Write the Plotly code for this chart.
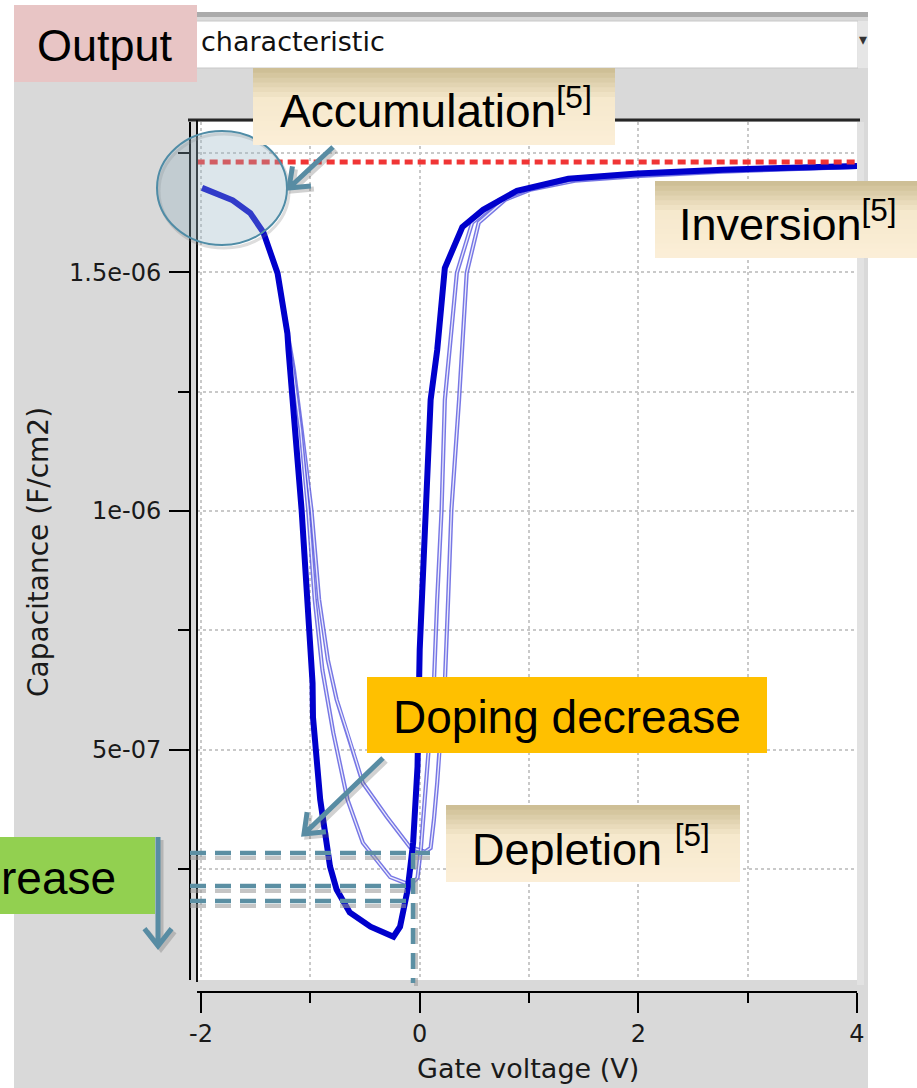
import math
import plotly.graph_objects as go

W, H = 917, 1088

# ---------------- data (gate voltage in V, capacitance in uF/cm2 -> converted to F/cm2) -------------
thick_v = [-1.99, -1.71, -1.55, -1.43, -1.30, -1.21, -1.20, -1.08, -0.98, -0.976, -0.91, -0.82, -0.76,
           -0.64, -0.45, -0.24, -0.18, -0.11, -0.06, -0.02, 0.00, 0.06, 0.10, 0.16, 0.23, 0.39, 0.58,
           0.89, 1.36, 1.99, 2.77, 4.00]
thick_c = [1.677, 1.651, 1.624, 1.584, 1.498, 1.372, 1.337, 1.002, 0.640, 0.568, 0.395, 0.255, 0.207,
           0.159, 0.129, 0.108, 0.129, 0.207, 0.305, 0.464, 0.709, 1.002, 1.233, 1.337, 1.509, 1.595,
           1.631, 1.671, 1.696, 1.707, 1.715, 1.723]

mid_v = [-1.99, -1.71, -1.55, -1.43, -1.30, -1.21, -1.16, -1.09, -1.02, -0.96, -0.89, -0.79, -0.66,
         -0.52, -0.27, -0.09, -0.02, 0.01, 0.06, 0.13, 0.16, 0.20, 0.23, 0.34, 0.48, 0.73, 0.98, 1.38,
         2.02, 2.77, 4.00]
mid_c = [1.677, 1.651, 1.624, 1.584, 1.498, 1.372, 1.295, 1.170, 1.002, 0.814, 0.667, 0.535, 0.395,
         0.305, 0.233, 0.217, 0.231, 0.290, 0.430, 0.640, 0.814, 1.002, 1.233, 1.499, 1.604, 1.652,
         1.673, 1.694, 1.704, 1.713, 1.721]

low_v = [-1.99, -1.71, -1.55, -1.43, -1.30, -1.21, -1.15, -1.08, -0.99, -0.92, -0.84, -0.76, -0.66,
         -0.52, -0.30, -0.09, 0.05, 0.10, 0.13, 0.16, 0.20, 0.23, 0.26, 0.29, 0.36, 0.43, 0.54, 0.78,
         1.01, 1.42, 2.02, 2.77, 4.00]
low_c = [1.677, 1.651, 1.624, 1.584, 1.498, 1.372, 1.295, 1.170, 1.002, 0.814, 0.688, 0.605, 0.535,
         0.430, 0.359, 0.296, 0.286, 0.294, 0.353, 0.430, 0.562, 0.640, 0.814, 1.002, 1.233, 1.499,
         1.604, 1.652, 1.673, 1.692, 1.702, 1.711, 1.721]

cox_v = [-2.04, 4.00]
cox_c = [1.731, 1.731]

x_tickvals = [-2, 0, 2, 4]
x_ticktext = ["-2", "0", "2", "4"]
x_minorvals = [-1, 1, 3]
y_tickvals = [0.5, 1.0, 1.5]
y_ticktext = ["5e-07", "1e-06", "1.5e-06"]
y_minorvals = [0.25, 0.75, 1.25, 1.75]

UF = 1e-6
def f(vals):
    return [v * UF for v in vals]

# ---------------- helpers for pixel placement of overlay graphics ----------------
def px(x):
    return x / W

def py(y):
    return 1 - y / H

shapes = []

def rect(x0, y0, x1, y1, color, layer="above", line=None):
    shapes.append(dict(type="rect", xref="paper", yref="paper", x0=px(x0), x1=px(x1),
                       y0=py(y1), y1=py(y0), fillcolor=color, layer=layer,
                       line=line or dict(width=0)))

def seg(x0, y0, x1, y1, color, width, dash=None, layer="above"):
    d = dict(color=color, width=width)
    if dash:
        d["dash"] = dash
    shapes.append(dict(type="line", xref="paper", yref="paper", x0=px(x0), y0=py(y0),
                       x1=px(x1), y1=py(y1), line=d, layer=layer))

def beige_box(x0, y0, x1, y1):
    n = 16
    top = (203, 188, 146)
    mid = (246, 233, 205)
    bot = (252, 239, 216)
    h = (y1 - y0) / n
    for i in range(n):
        t = (i + 0.5) / n
        if t < 0.4:
            a, b, s = top, mid, t / 0.4
        else:
            a, b, s = mid, bot, (t - 0.4) / 0.6
        c = tuple(int(a[k] + (b[k] - a[k]) * s) for k in range(3))
        rect(x0, y0 + i * h, x1, min(y1, y0 + (i + 1) * h + 0.8), "rgb(%d,%d,%d)" % c)

def arrow(x0, y0, x1, y1, color="#588ca3", width=5, head=22):
    ang = math.atan2(y1 - y0, x1 - x0)
    pts = []
    for da in (math.radians(38), -math.radians(38)):
        pts.append((x1 - head * math.cos(ang + da), y1 - head * math.sin(ang + da)))
    for (ox, oy, col) in ((3, 3, "rgba(90,90,90,0.28)"), (0, 0, color)):
        path = "M %f,%f L %f,%f M %f,%f L %f,%f L %f,%f" % (
            px(x0 + ox), py(y0 + oy), px(x1 + ox), py(y1 + oy),
            px(pts[0][0] + ox), py(pts[0][1] + oy), px(x1 + ox), py(y1 + oy),
            px(pts[1][0] + ox), py(pts[1][1] + oy))
        shapes.append(dict(type="path", xref="paper", yref="paper", path=path, layer="above",
                           line=dict(color=col, width=width)))

# window chrome
rect(0, 0, W, 12, "white", layer="below")
rect(0, 0, 14, H, "white", layer="below")
rect(868, 0, W, H, "white", layer="below")
rect(196, 12, 868, 17, "#ababab", layer="below")
rect(196, 21, 858, 68, "white", layer="below", line=dict(color="#c8c8c8", width=1))
rect(858, 21, 868, 68, "#e6e6e6", layer="below")
rect(14, 5, 197, 82, "#e8c5c5", layer="below")
rect(857, 122, 864, 985, "#e2e2e2", layer="below")

# plot frame
seg(188, 120, 860, 120, "#262626", 3)
seg(197, 120, 197, 982, "#111111", 2)

# annotation dashed guide lines with shadows
dash_pat = "16px,9px"
for (x0, y0, x1, y1) in ((190, 853, 430, 853), (190, 886, 415, 886), (190, 901, 415, 901)):
    seg(x0, y0 + 5, x1, y1 + 5, "rgba(150,150,150,0.55)", 4, dash_pat)
    seg(x0, y0, x1, y1, "#5b8fa3", 4.5, dash_pat)
seg(416, 853, 416, 986, "rgba(150,150,150,0.55)", 4, dash_pat)
seg(413, 853, 413, 983, "#5b8fa3", 4.5, dash_pat)

# accumulation ellipse
shapes.append(dict(type="circle", xref="paper", yref="paper", x0=px(159), x1=px(289),
                   y0=py(248), y1=py(134), layer="above", fillcolor="rgba(0,0,0,0)",
                   line=dict(color="rgba(120,120,120,0.25)", width=3)))
shapes.append(dict(type="circle", xref="paper", yref="paper", x0=px(157), x1=px(287),
                   y0=py(245), y1=py(131), layer="above", fillcolor="rgba(150,178,194,0.33)",
                   line=dict(color="#4f8ca6", width=2)))

# labelled boxes
beige_box(253, 68, 615, 145)
beige_box(655, 181, 917, 258)
beige_box(446, 805, 740, 882)
rect(367, 677, 767, 753, "#ffc000")
rect(0, 837, 155, 914, "#92d050")

arrow(333, 147, 289, 188)
arrow(383, 758, 304, 834)
arrow(158, 837, 158, 946)

# ---------------- figure ----------------
ui_font = "DejaVu Sans, sans-serif"
tick_font = dict(family=ui_font, size=24, color="#1a1a1a")

fig = go.Figure()
for vv, cc in ((low_v, low_c), (mid_v, mid_c)):
    fig.add_trace(go.Scatter(x=vv, y=f(cc), mode="lines",
                             line=dict(color="rgba(85,85,222,0.8)", width=4.2)))
    fig.add_trace(go.Scatter(x=vv, y=f(cc), mode="lines",
                             line=dict(color="rgba(255,255,255,0.85)", width=1.3)))
fig.add_trace(go.Scatter(x=thick_v, y=f(thick_c), mode="lines",
                         line=dict(color="#0000cc", width=6)))
fig.add_trace(go.Scatter(x=cox_v, y=f(cox_c), mode="lines",
                         line=dict(color="#f03535", width=5, dash="8px,5px")))

ann = []
def text(x, y, s, size, family="Liberation Sans, Arial, sans-serif", xanchor="center",
         angle=0, color="black"):
    ann.append(dict(x=px(x), y=py(y), xref="paper", yref="paper", text=s, showarrow=False,
                    xanchor=xanchor, yanchor="middle", textangle=angle,
                    font=dict(family=family, size=size, color=color)))

text(105, 46, "Output", 45)
text(199, 42, "characteristic", 27, family=ui_font, xanchor="left", color="#111111")
text(863, 40, "▾", 16, color="#333333")
text(436, 108, "Accumulation<sup>[5]</sup>", 46)
text(788, 221, "Inversion<sup>[5]</sup>", 45)
text(567, 717, "Doping decrease", 46)
text(591, 846, "Depletion <sup>[5]</sup>", 45)
text(118, 878, "rease", 46, xanchor="right")
text(528, 1068, "Gate voltage (V)", 27, family=ui_font, color="#1a1a1a")
text(38, 552, "Capacitance (F/cm2)", 28, family=ui_font, angle=-90, color="#1a1a1a")

grid_c = "#c9c9c9"
fig.update_layout(
    width=W, height=H, autosize=False, margin=dict(l=0, r=0, t=0, b=0, pad=0),
    paper_bgcolor="#d9d9d9", plot_bgcolor="white", showlegend=False, hovermode=False,
    shapes=shapes, annotations=ann,
    xaxis=dict(domain=[197 / W, 857 / W], range=[-2.037, 4.0], anchor="free", position=py(992),
               automargin=False,
               showline=True, linecolor="black", linewidth=2, ticks="outside", ticklen=20,
               tickwidth=2, tickcolor="black", tickmode="array", tickvals=x_tickvals,
               ticktext=x_ticktext,
               tickfont=tick_font, showgrid=True, gridcolor=grid_c, griddash="dot", gridwidth=1.5,
               zeroline=False,
               minor=dict(tickvals=x_minorvals, ticks="outside", ticklen=10, tickwidth=2,
                          tickcolor="black", showgrid=True, gridcolor=grid_c, griddash="dot",
                          gridwidth=1.5)),
    yaxis=dict(domain=[py(980), py(122)], range=[0.0174 * UF, 1.815 * UF], anchor="free",
               position=190 / W, automargin=False,
               showline=True, linecolor="black", linewidth=2, ticks="outside",
               ticklen=20, tickwidth=2, tickcolor="black", tickmode="array",
               tickvals=f(y_tickvals), ticktext=y_ticktext, tickfont=tick_font,
               ticklabelstandoff=3, showgrid=True, gridcolor=grid_c, griddash="dot",
               gridwidth=1.5, zeroline=False,
               minor=dict(tickvals=f(y_minorvals), ticks="outside", ticklen=11, tickwidth=2,
                          tickcolor="black", showgrid=True, gridcolor=grid_c, griddash="dot",
                          gridwidth=1.5)),
)

fig.write_html("out.html")
